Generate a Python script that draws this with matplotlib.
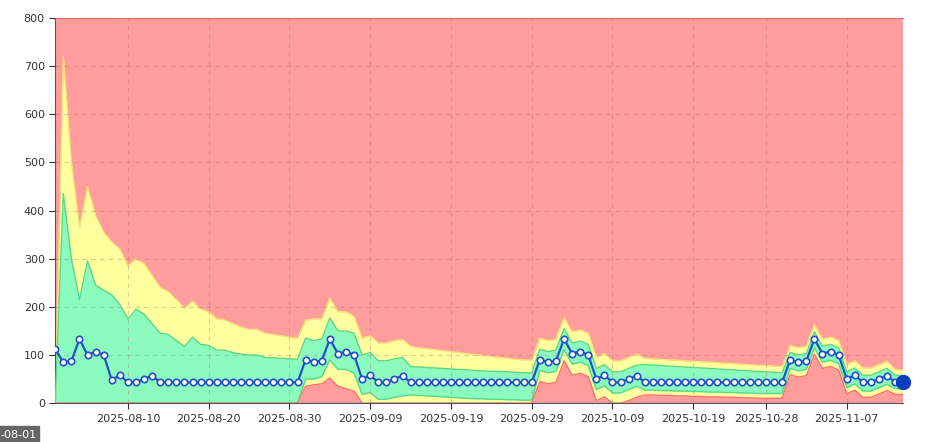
import matplotlib
matplotlib.use("Agg")
import matplotlib.pyplot as plt
import matplotlib.dates as mdates
import numpy as np
import pandas as pd

dates = pd.date_range("2025-08-01", periods=106, freq="D")

blk = [90, 85, 88, 133, 103, 107, 100, 50, 58, 43, 43, 50, 57]
median = ([112, 85, 87, 133, 100, 107, 100, 48, 58, 43, 43, 50, 57] + [43] * 18
          + blk + [43] * 16 + blk + [43] * 18 + blk + [43, 43])

u95 = ([0, 720, 500, 365, 450, 390, 355, 335, 320, 285, 300, 290, 265, 240, 232, 215, 197, 212, 195, 190,
        175, 173, 165, 158, 153, 153, 145, 143, 140, 137, 135]
       + [172, 175, 175, 218, 190, 190, 180, 135, 140, 125, 125, 130, 132]
       + [118, 115, 113, 111, 109, 107, 105, 103, 101, 99, 97, 95, 93, 91, 90, 89]
       + [135, 130, 133, 178, 148, 152, 145, 95, 103, 88, 88, 95, 102]
       + [93, 92, 91, 90, 89, 88, 87, 86, 85, 84, 83, 82, 81, 80, 79, 78, 77, 76]
       + [120, 115, 118, 163, 133, 137, 130, 80, 88, 73, 73, 80, 87]
       + [70, 68])
u75 = ([0, 435, 300, 215, 295, 245, 235, 225, 205, 175, 195, 185, 165, 145, 143, 130, 118, 137, 122, 120,
        110, 110, 105, 102, 100, 100, 95, 94, 93, 92, 91]
       + [135, 130, 133, 177, 150, 150, 145, 100, 105, 88, 88, 92, 95]
       + [76, 75, 74, 73, 72, 71, 70, 69, 68, 67, 66, 66, 65, 64, 63, 63]
       + [112, 107, 110, 155, 125, 129, 122, 72, 80, 65, 65, 72, 79]
       + [80, 79, 78, 77, 76, 75, 74, 73, 72, 71, 70, 69, 68, 67, 66, 65, 64, 63]
       + [105, 100, 103, 148, 118, 122, 115, 65, 73, 58, 58, 65, 72]
       + [58, 57])
l25 = ([0] * 31
       + [50, 50, 55, 90, 70, 70, 62, 18, 22, 8, 8, 12, 15]
       + [17, 16, 15, 14, 13, 12, 11, 10, 9, 9, 8, 8, 7, 7, 6, 6]
       + [68, 63, 66, 111, 81, 85, 78, 28, 36, 21, 21, 28, 35]
       + [27, 27, 26, 26, 25, 25, 24, 24, 23, 23, 22, 22, 21, 21, 20, 20, 20, 20]
       + [72, 67, 70, 115, 85, 89, 82, 32, 40, 25, 25, 32, 39]
       + [30, 30])
l05 = ([0] * 31
       + [35, 38, 40, 52, 35, 30, 25, 0, 0, 0, 0, 0, 0]
       + [0] * 16
       + [45, 40, 43, 88, 58, 62, 55, 5, 13, 0, 0, 5, 12]
       + [17, 17, 16, 16, 15, 15, 14, 14, 13, 13, 12, 12, 11, 11, 10, 10, 10, 10]
       + [59, 54, 57, 102, 72, 76, 69, 19, 27, 12, 12, 19, 26]
       + [18, 18])

tick_labels = ["2025-08-10", "2025-08-20", "2025-08-30", "2025-09-09", "2025-09-19",
               "2025-09-29", "2025-10-09", "2025-10-19", "2025-10-28", "2025-11-07"]
y_ticks = [0, 100, 200, 300, 400, 500, 600, 700, 800]

RED = "#ff9d9d"
YEL = "#ffff9f"
GRN = "#8cfcbe"

fig = plt.figure(figsize=(9.36, 4.42), dpi=100)
ax = fig.add_axes([0.059, 0.088, 0.906, 0.871])
ax.set_facecolor(RED)
x = mdates.date2num(dates)
ax.fill_between(x, l05, u95, color=YEL, lw=0, zorder=1)
ax.fill_between(x, l25, u75, color=GRN, lw=0, zorder=2)
ax.plot(x, u95, color="#f5e27a", lw=1, zorder=2)
ax.plot(x, u75, color="#5ad88c", lw=1, zorder=3)
ax.plot(x, l25, color="#5ad88c", lw=1, zorder=3)
ax.plot(x, l05, color="#ff7070", lw=1, zorder=3)
ax.plot(x, median, color="#2150c8", lw=1.6, marker="o", ms=4.6, mfc="white",
        mec="#2150c8", mew=1.2, zorder=5)
ax.plot(x[-1], median[-1], "o", color="#0b3cc2", ms=10, zorder=6, clip_on=False)

ax.set_xlim(x[0], x[-1])
ax.set_ylim(0, 800)
ax.set_yticks(y_ticks)
ax.set_xticks(mdates.date2num(pd.to_datetime(tick_labels)))
ax.set_xticklabels(tick_labels)
ax.tick_params(labelsize=8, colors="#333333", length=4)
ax.grid(True, linestyle=(0, (4, 4)), color="#b06a6a", alpha=0.35, lw=0.8)
ax.set_axisbelow(False)
ax.spines["top"].set_color("#ff6060")
ax.spines["right"].set_visible(False)
for s in ["left", "bottom"]:
    ax.spines[s].set_color("#555555")

fig.text(0.0, 0.01, "-08-01", fontsize=8, color="white",
         bbox=dict(boxstyle="square,pad=0.3", fc="#666666", ec="#666666"))

fig.savefig("out.png", dpi=100)
